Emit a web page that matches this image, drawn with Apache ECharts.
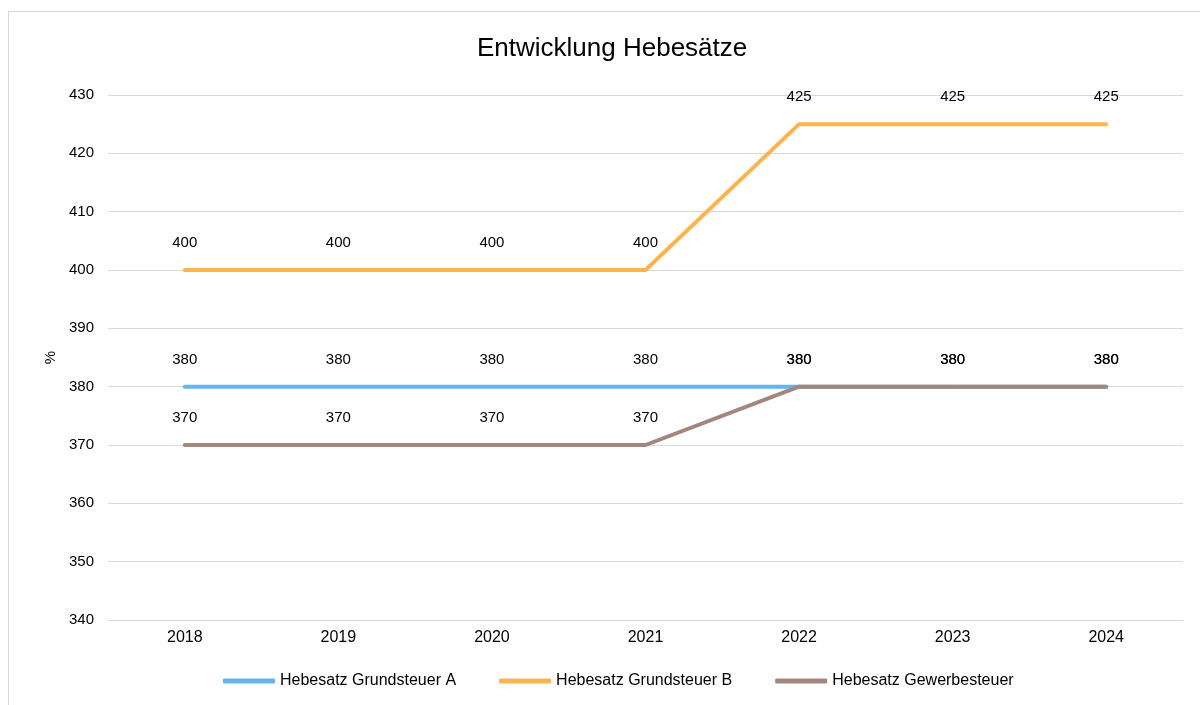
<!DOCTYPE html>
<html>
<head>
<meta charset="utf-8">
<script src="https://cdn.jsdelivr.net/npm/echarts@6/dist/echarts.min.js"></script>
<style>
    html,body{margin:0;padding:0;background:#fff;}
    #main{width:1200px;height:705px;}
</style>
</head>
<body>
<div id="main"></div>
<script>
    // Jahre und Hebesätze (in %)
    var years = ['2018', '2019', '2020', '2021', '2022', '2023', '2024'];
    var grundsteuerA = [380, 380, 380, 380, 380, 380, 380];
    var grundsteuerB = [400, 400, 400, 400, 425, 425, 425];
    var gewerbesteuer = [370, 370, 370, 370, 380, 380, 380];
    var seriesNames = ['Hebesatz Grundsteuer A', 'Hebesatz Grundsteuer B', 'Hebesatz Gewerbesteuer'];
    var colors = ['#62b5f3', '#ffb34f', '#a3877e'];

    var font = 'Liberation Sans, Arial, sans-serif';

    function lineSeries(name, data, color){
        return {
            name: name,
            type: 'line',
            data: data,
            symbol: 'circle',
            symbolSize: 1,
            showSymbol: true,
            lineStyle: {width: 4, color: color, cap: 'round', join: 'round'},
            itemStyle: {color: color},
            label: {
                show: true,
                position: 'top',
                distance: 19,
                color: '#000',
                fontSize: 15,
                fontFamily: font
            },
            emphasis: {disabled: true}
        };
    }

    var chart = echarts.init(document.getElementById('main'));
    chart.setOption({
        animation: false,
        color: colors,
        title: {
            text: 'Entwicklung Hebesätze',
            left: 472,
            top: 31,
            textStyle: {fontSize: 26, fontWeight: 'normal', color: '#000', fontFamily: font}
        },
        graphic: [{
            type: 'rect',
            shape: {x: 8.5, y: 11.5, width: 1220, height: 720},
            style: {fill: 'none', stroke: '#d9d9d9', lineWidth: 1},
            silent: true
        }],
        legend: {
            bottom: 11,
            left: 218,
            itemWidth: 52,
            itemHeight: 5,
            itemGap: 43,
            icon: 'roundRect',
            data: seriesNames,
            textStyle: {fontSize: 16, color: '#000', fontFamily: font}
        },
        grid: {left: 108, right: 17, top: 95, bottom: 85},
        xAxis: {
            type: 'category',
            data: years,
            boundaryGap: true,
            axisLine: {show: true, lineStyle: {color: '#d9d9d9', width: 1}},
            axisTick: {show: false},
            axisLabel: {color: '#000', fontSize: 16, margin: 10, fontFamily: font}
        },
        yAxis: {
            type: 'value',
            min: 340,
            max: 430,
            interval: 10,
            name: '%',
            nameLocation: 'middle',
            nameRotate: 90,
            nameGap: 49,
            nameTextStyle: {color: '#000', fontSize: 15, fontFamily: font},
            axisLine: {show: false},
            axisTick: {show: false},
            axisLabel: {color: '#000', fontSize: 15, margin: 14, fontFamily: font},
            splitLine: {lineStyle: {color: '#d9d9d9', width: 1}}
        },
        series: [
            lineSeries(seriesNames[0], grundsteuerA, colors[0]),
            lineSeries(seriesNames[1], grundsteuerB, colors[1]),
            lineSeries(seriesNames[2], gewerbesteuer, colors[2])
        ]
    });
</script>
</body>
</html>
